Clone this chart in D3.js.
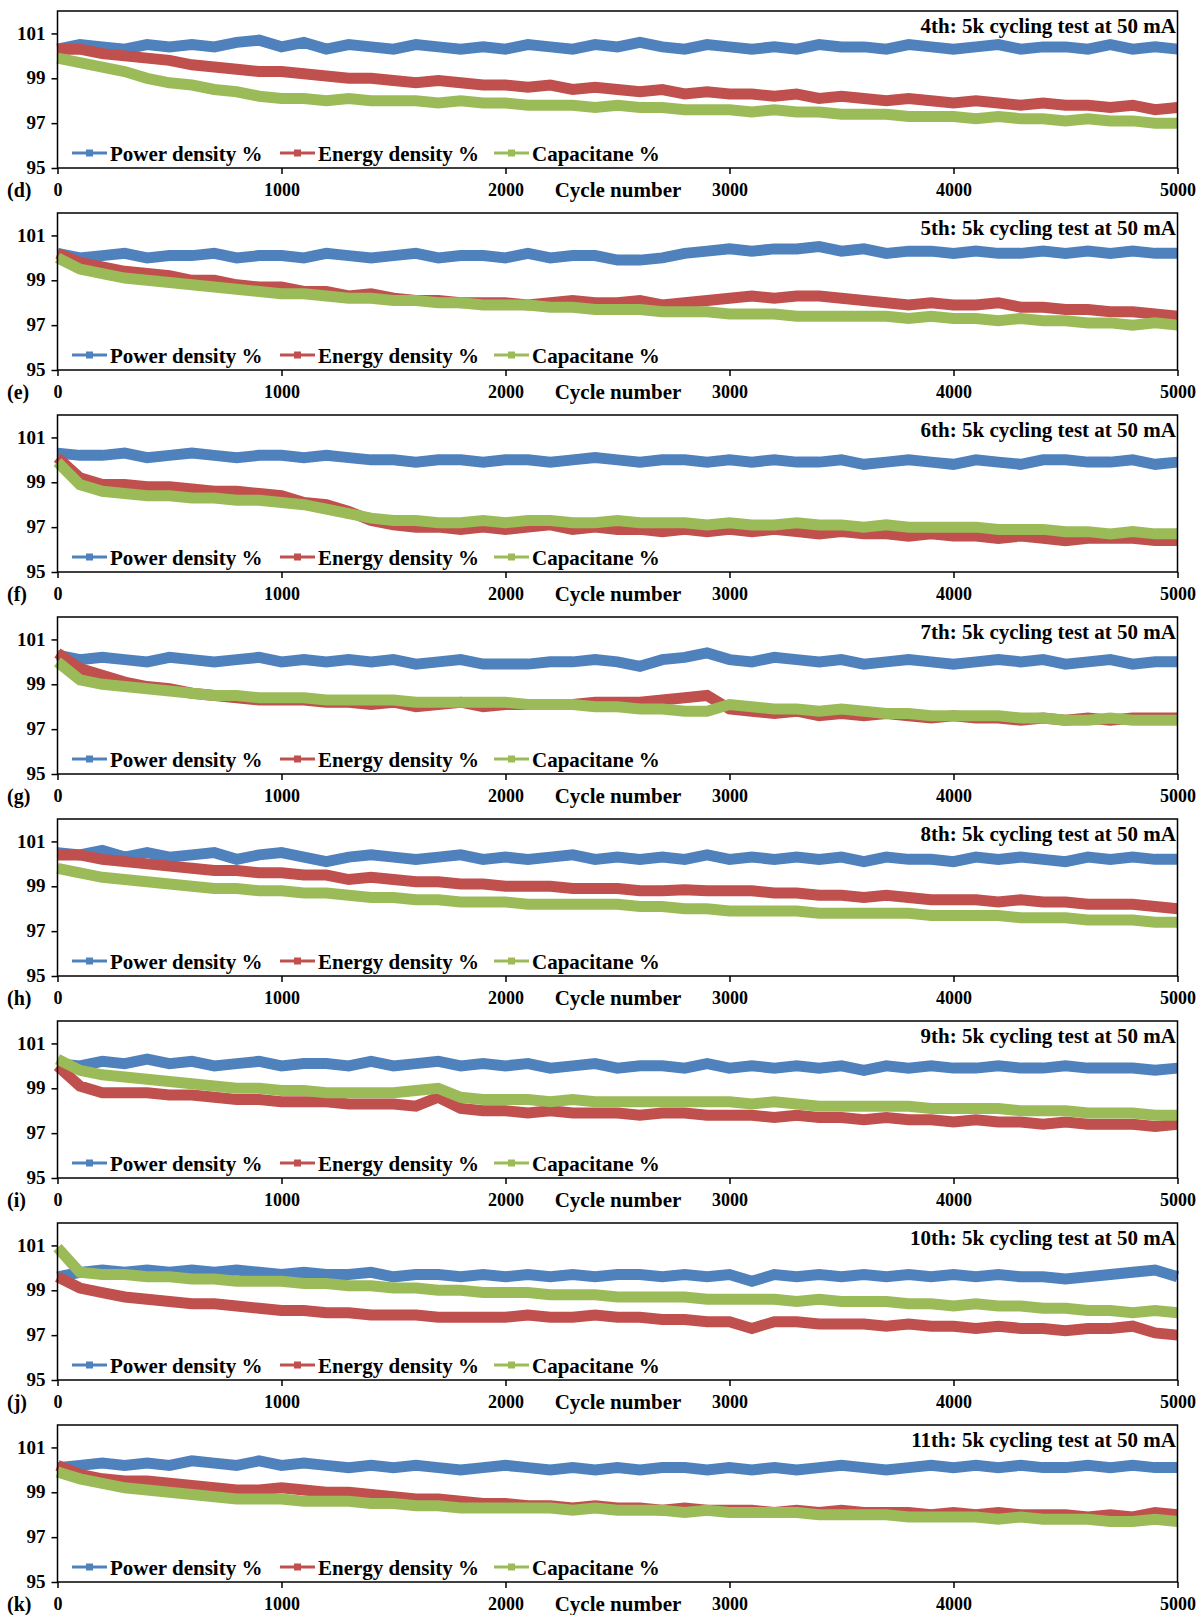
<!DOCTYPE html>
<html lang="en">
<head>
  <meta charset="UTF-8">
  <title>5k cycling tests</title>
  <script src="https://cdn.jsdelivr.net/npm/d3@7"></script>
  <style>
    html, body {
      margin: 0;
      padding: 0;
      background: #fff;
    }
    text {
      font-family: "Liberation Serif", "Times New Roman", serif;
      font-weight: bold;
      fill: #000;
    }
  </style>
</head>
<body>
  <svg id="chart" width="1200" height="1615"></svg>
  <script>
    // cycle numbers the values were read at
    const cycles = [0, 100, 200, 300, 400, 500, 600, 700, 800, 900,
      1000, 1100, 1200, 1300, 1400, 1500, 1600, 1700, 1800, 1900,
      2000, 2100, 2200, 2300, 2400, 2500, 2600, 2700, 2800, 2900,
      3000, 3100, 3200, 3300, 3400, 3500, 3600, 3700, 3800, 3900,
      4000, 4100, 4200, 4300, 4400, 4500, 4600, 4700, 4800, 4900, 5000];

    const xTicks = [0, 1000, 2000, 3000, 4000, 5000];
    const yTicks = [95, 97, 99, 101];
    const seriesNames = ['Power density %', 'Energy density %', 'Capacitane %'];
    const panelLetters = ['(d)', '(e)', '(f)', '(g)', '(h)', '(i)', '(j)', '(k)'];
    const panelTitles = ['4th', '5th', '6th', '7th', '8th', '9th', '10th', '11th']
      .map(t => t + ': 5k cycling test at 50 mA');

    // 4th test
    const power4 = [100.3,100.5,100.4,100.3,100.5,100.4,100.5,100.4,100.6,100.7,100.4,100.6,100.3,100.5,100.4,100.3,100.5,100.4,100.3,100.4,100.3,100.5,100.4,100.3,100.5,100.4,100.6,100.4,100.3,100.5,100.4,100.3,100.4,100.3,100.5,100.4,100.4,100.3,100.5,100.4,100.3,100.4,100.5,100.3,100.4,100.4,100.3,100.5,100.3,100.4,100.3];
    const energy4 = [100.3,100.3,100.1,100.0,99.9,99.8,99.6,99.5,99.4,99.3,99.3,99.2,99.1,99.0,99.0,98.9,98.8,98.9,98.8,98.7,98.7,98.6,98.7,98.5,98.6,98.5,98.4,98.5,98.3,98.4,98.3,98.3,98.2,98.3,98.1,98.2,98.1,98.0,98.1,98.0,97.9,98.0,97.9,97.8,97.9,97.8,97.8,97.7,97.8,97.6,97.7];
    const cap4 = [99.9,99.7,99.5,99.3,99.0,98.8,98.7,98.5,98.4,98.2,98.1,98.1,98.0,98.1,98.0,98.0,98.0,97.9,98.0,97.9,97.9,97.8,97.8,97.8,97.7,97.8,97.7,97.7,97.6,97.6,97.6,97.5,97.6,97.5,97.5,97.4,97.4,97.4,97.3,97.3,97.3,97.2,97.3,97.2,97.2,97.1,97.2,97.1,97.1,97.0,97.0];

    // 5th test
    const power5 = [100.2,100.0,100.1,100.2,100.0,100.1,100.1,100.2,100.0,100.1,100.1,100.0,100.2,100.1,100.0,100.1,100.2,100.0,100.1,100.1,100.0,100.2,100.0,100.1,100.1,99.9,99.9,100.0,100.2,100.3,100.4,100.3,100.4,100.4,100.5,100.3,100.4,100.2,100.3,100.3,100.2,100.3,100.2,100.2,100.3,100.2,100.3,100.2,100.3,100.2,100.2];
    const energy5 = [100.2,99.8,99.6,99.4,99.3,99.2,99.0,99.0,98.8,98.7,98.7,98.5,98.5,98.3,98.4,98.2,98.1,98.1,98.0,98.0,98.0,97.9,98.0,98.1,98.0,98.0,98.1,97.9,98.0,98.1,98.2,98.3,98.2,98.3,98.3,98.2,98.1,98.0,97.9,98.0,97.9,97.9,98.0,97.8,97.8,97.7,97.7,97.6,97.6,97.5,97.4];
    const cap5 = [100.0,99.5,99.3,99.1,99.0,98.9,98.8,98.7,98.6,98.5,98.4,98.4,98.3,98.2,98.2,98.1,98.1,98.0,98.0,97.9,97.9,97.9,97.8,97.8,97.7,97.7,97.7,97.6,97.6,97.6,97.5,97.5,97.5,97.4,97.4,97.4,97.4,97.4,97.3,97.4,97.3,97.3,97.2,97.3,97.2,97.2,97.1,97.1,97.0,97.1,97.0];

    // 6th test
    const power6 = [100.3,100.2,100.2,100.3,100.1,100.2,100.3,100.2,100.1,100.2,100.2,100.1,100.2,100.1,100.0,100.0,99.9,100.0,100.0,99.9,100.0,100.0,99.9,100.0,100.1,100.0,99.9,100.0,100.0,99.9,100.0,99.9,100.0,99.9,99.9,100.0,99.8,99.9,100.0,99.9,99.8,100.0,99.9,99.8,100.0,100.0,99.9,99.9,100.0,99.8,99.9];
    const energy6 = [100.1,99.2,98.9,98.9,98.8,98.8,98.7,98.6,98.6,98.5,98.4,98.1,98.0,97.7,97.3,97.1,97.0,97.0,96.9,97.0,96.9,97.0,97.1,96.9,97.0,96.9,96.9,96.8,96.9,96.8,96.9,96.8,96.9,96.8,96.7,96.8,96.7,96.7,96.6,96.7,96.6,96.6,96.5,96.6,96.5,96.4,96.5,96.5,96.5,96.4,96.4];
    const cap6 = [99.9,98.9,98.6,98.5,98.4,98.4,98.3,98.3,98.2,98.2,98.1,98.0,97.8,97.6,97.4,97.3,97.3,97.2,97.2,97.3,97.2,97.3,97.3,97.2,97.2,97.3,97.2,97.2,97.2,97.1,97.2,97.1,97.1,97.2,97.1,97.1,97.0,97.1,97.0,97.0,97.0,97.0,96.9,96.9,96.9,96.8,96.8,96.7,96.8,96.7,96.7];

    // 7th test
    const power7 = [100.3,100.1,100.2,100.1,100.0,100.2,100.1,100.0,100.1,100.2,100.0,100.1,100.0,100.1,100.0,100.1,99.9,100.0,100.1,99.9,99.9,99.9,100.0,100.0,100.1,100.0,99.8,100.1,100.2,100.4,100.1,100.0,100.2,100.1,100.0,100.1,99.9,100.0,100.1,100.0,99.9,100.0,100.1,100.0,100.1,99.9,100.0,100.1,99.9,100.0,100.0];
    const energy7 = [100.4,99.7,99.4,99.1,98.9,98.8,98.6,98.5,98.4,98.3,98.3,98.3,98.2,98.2,98.1,98.2,98.0,98.1,98.2,98.0,98.1,98.1,98.1,98.1,98.2,98.2,98.2,98.3,98.4,98.5,97.9,97.8,97.7,97.8,97.6,97.7,97.6,97.7,97.6,97.5,97.6,97.5,97.5,97.4,97.5,97.4,97.5,97.4,97.5,97.5,97.5];
    const cap7 = [100.0,99.2,99.0,98.9,98.8,98.7,98.6,98.5,98.5,98.4,98.4,98.4,98.3,98.3,98.3,98.3,98.2,98.2,98.2,98.2,98.2,98.1,98.1,98.1,98.0,98.0,97.9,97.9,97.8,97.8,98.1,98.0,97.9,97.9,97.8,97.9,97.8,97.7,97.7,97.6,97.6,97.6,97.6,97.5,97.5,97.4,97.4,97.5,97.4,97.4,97.4];

    // 8th test
    const power8 = [100.5,100.4,100.6,100.3,100.5,100.3,100.4,100.5,100.2,100.4,100.5,100.3,100.1,100.3,100.4,100.3,100.2,100.3,100.4,100.2,100.3,100.2,100.3,100.4,100.2,100.3,100.2,100.3,100.2,100.4,100.2,100.3,100.2,100.3,100.2,100.3,100.1,100.3,100.2,100.2,100.1,100.3,100.2,100.3,100.2,100.1,100.3,100.2,100.3,100.2,100.2];
    const energy8 = [100.4,100.4,100.2,100.1,100.0,99.9,99.8,99.7,99.7,99.6,99.6,99.5,99.5,99.3,99.4,99.3,99.2,99.2,99.1,99.1,99.0,99.0,99.0,98.9,98.9,98.9,98.8,98.8,98.85,98.8,98.8,98.8,98.7,98.7,98.6,98.6,98.5,98.6,98.5,98.4,98.4,98.4,98.3,98.4,98.3,98.3,98.2,98.2,98.2,98.1,98.0];
    const cap8 = [99.8,99.6,99.4,99.3,99.2,99.1,99.0,98.9,98.9,98.8,98.8,98.7,98.7,98.6,98.5,98.5,98.4,98.4,98.3,98.3,98.3,98.2,98.2,98.2,98.2,98.2,98.1,98.1,98.0,98.0,97.9,97.9,97.9,97.9,97.8,97.8,97.8,97.8,97.8,97.7,97.7,97.7,97.7,97.6,97.6,97.6,97.5,97.5,97.5,97.4,97.4];

    // 9th test
    const power9 = [100.1,100.0,100.2,100.1,100.3,100.1,100.2,100.0,100.1,100.2,100.0,100.1,100.1,100.0,100.2,100.0,100.1,100.2,100.0,100.1,100.0,100.1,99.9,100.0,100.1,99.9,100.0,100.0,99.9,100.1,99.9,100.0,99.9,100.0,99.9,100.0,99.8,100.0,99.9,100.0,99.9,99.9,100.0,99.9,99.9,100.0,99.9,99.9,99.9,99.8,99.9];
    const energy9 = [100.0,99.1,98.8,98.8,98.8,98.7,98.7,98.6,98.5,98.5,98.4,98.4,98.4,98.3,98.3,98.3,98.2,98.6,98.1,98.0,98.0,97.9,98.0,97.9,97.9,97.9,97.8,97.9,97.9,97.8,97.8,97.8,97.7,97.8,97.7,97.7,97.6,97.7,97.6,97.6,97.5,97.6,97.5,97.5,97.4,97.5,97.4,97.4,97.4,97.3,97.4];
    const cap9 = [100.3,99.8,99.6,99.5,99.4,99.3,99.2,99.1,99.0,99.0,98.9,98.9,98.8,98.8,98.8,98.8,98.9,99.0,98.6,98.5,98.5,98.5,98.4,98.5,98.4,98.4,98.4,98.4,98.4,98.4,98.4,98.3,98.4,98.3,98.2,98.2,98.2,98.2,98.2,98.1,98.1,98.1,98.1,98.0,98.0,98.0,97.9,97.9,97.9,97.8,97.8];

    // 10th test
    const power10 = [99.6,99.8,99.9,99.8,99.9,99.8,99.9,99.8,99.9,99.8,99.7,99.8,99.7,99.7,99.8,99.6,99.7,99.7,99.6,99.7,99.6,99.7,99.6,99.7,99.6,99.7,99.7,99.6,99.7,99.6,99.7,99.4,99.7,99.6,99.7,99.6,99.7,99.6,99.7,99.6,99.7,99.6,99.7,99.6,99.6,99.5,99.6,99.7,99.8,99.9,99.6];
    const energy10 = [99.6,99.1,98.9,98.7,98.6,98.5,98.4,98.4,98.3,98.2,98.1,98.1,98.0,98.0,97.9,97.9,97.9,97.8,97.8,97.8,97.8,97.9,97.8,97.8,97.9,97.8,97.8,97.7,97.7,97.6,97.6,97.3,97.6,97.6,97.5,97.5,97.5,97.4,97.5,97.4,97.4,97.3,97.4,97.3,97.3,97.2,97.3,97.3,97.4,97.1,97.0];
    const cap10 = [100.9,99.8,99.7,99.7,99.6,99.6,99.5,99.5,99.4,99.4,99.4,99.3,99.3,99.2,99.2,99.1,99.1,99.0,99.0,98.9,98.9,98.9,98.8,98.8,98.8,98.7,98.7,98.7,98.7,98.6,98.6,98.6,98.6,98.5,98.6,98.5,98.5,98.5,98.4,98.4,98.3,98.4,98.3,98.3,98.2,98.2,98.1,98.1,98.0,98.1,98.0];

    // 11th test
    const power11 = [100.1,100.2,100.3,100.2,100.3,100.2,100.4,100.3,100.2,100.4,100.2,100.3,100.2,100.1,100.2,100.1,100.2,100.1,100.0,100.1,100.2,100.1,100.0,100.1,100.0,100.1,100.0,100.1,100.1,100.0,100.1,100.0,100.1,100.0,100.1,100.2,100.1,100.0,100.1,100.2,100.1,100.2,100.1,100.2,100.1,100.1,100.2,100.1,100.2,100.1,100.1];
    const energy11 = [100.2,99.8,99.6,99.5,99.5,99.4,99.3,99.2,99.1,99.1,99.2,99.1,99.0,99.0,98.9,98.8,98.7,98.7,98.6,98.5,98.5,98.4,98.4,98.3,98.4,98.3,98.3,98.2,98.3,98.2,98.2,98.2,98.1,98.2,98.1,98.2,98.1,98.1,98.1,98.0,98.1,98.0,98.1,98.0,98.0,98.0,97.9,98.0,97.9,98.1,98.0];
    const cap11 = [99.9,99.6,99.4,99.2,99.1,99.0,98.9,98.8,98.7,98.7,98.7,98.6,98.6,98.6,98.5,98.5,98.4,98.4,98.3,98.3,98.3,98.3,98.3,98.2,98.3,98.2,98.2,98.2,98.1,98.2,98.1,98.1,98.1,98.1,98.0,98.0,98.0,98.0,97.9,97.9,97.9,97.9,97.8,97.9,97.8,97.8,97.8,97.7,97.7,97.8,97.7];

    const panels = [
      [power4, energy4, cap4], [power5, energy5, cap5],
      [power6, energy6, cap6], [power7, energy7, cap7],
      [power8, energy8, cap8], [power9, energy9, cap9],
      [power10, energy10, cap10], [power11, energy11, cap11]
    ];

    const colors = ['#4f81bd', '#c0504d', '#9bbb59'];

    const svg = d3.select('#chart');
    const pitch = 202;
    const x = d3.scaleLinear().domain([0, 5000]).range([57.5, 1177.5]);

    panels.forEach((series, i) => {
      const g = svg.append('g').attr('transform', `translate(0,${i * pitch})`);
      const y = d3.scaleLinear().domain([95, 102]).range([168, 11]);

      // data
      const line = d3.line()
        .x((d, j) => x(cycles[j]))
        .y(d => y(d));

      g.selectAll('path.series')
        .data(series)
        .enter()
        .append('path')
        .attr('class', 'series')
        .attr('d', line)
        .attr('fill', 'none')
        .attr('stroke', (d, k) => colors[k])
        .attr('stroke-width', 11)
        .attr('stroke-linejoin', 'miter')
        .attr('stroke-miterlimit', 3);

      // frame
      g.append('rect')
        .attr('x', x(0))
        .attr('y', y(102))
        .attr('width', x(5000) - x(0))
        .attr('height', y(95) - y(102))
        .attr('fill', 'none')
        .attr('stroke', '#000')
        .attr('stroke-width', 1.5);

      // axes
      const yAxis = g.append('g')
        .attr('transform', `translate(${x(0)},0)`)
        .call(d3.axisLeft(y).tickValues(yTicks).tickSize(6).tickPadding(6).tickFormat(d3.format('d')));
      yAxis.select('.domain').remove();
      yAxis.selectAll('line').attr('stroke', '#000').attr('stroke-width', 1.5);
      yAxis.selectAll('text')
        .attr('font-size', 19)
        .attr('dy', '0.3em')
        .attr('font-family', '"Liberation Serif", serif')
        .attr('font-weight', 'bold');

      const xAxis = g.append('g')
        .attr('transform', `translate(0,${y(95)})`)
        .call(d3.axisBottom(x).tickValues(xTicks).tickSize(6).tickPadding(9).tickFormat(d3.format('d')));
      xAxis.select('.domain').remove();
      xAxis.selectAll('line').attr('stroke', '#000').attr('stroke-width', 1.5);
      xAxis.selectAll('text')
        .attr('font-size', 18)
        .attr('font-family', '"Liberation Serif", serif')
        .attr('font-weight', 'bold');

      g.append('text')
        .attr('x', 618)
        .attr('y', 196.5)
        .attr('text-anchor', 'middle')
        .attr('font-size', 21)
        .text('Cycle number');

      g.append('text')
        .attr('x', 7)
        .attr('y', 196.5)
        .attr('font-size', 20)
        .text(panelLetters[i]);

      g.append('text')
        .attr('x', 1176)
        .attr('y', 33)
        .attr('text-anchor', 'end')
        .attr('font-size', 21)
        .text(panelTitles[i]);

      // legend
      const legendX = [72, 280, 494];
      const leg = g.selectAll('g.legend')
        .data(seriesNames)
        .enter()
        .append('g')
        .attr('class', 'legend')
        .attr('transform', (d, k) => `translate(${legendX[k]},153)`);
      leg.append('line')
        .attr('x1', 0).attr('x2', 35)
        .attr('stroke', (d, k) => colors[k])
        .attr('stroke-width', 3);
      leg.append('rect')
        .attr('x', 14).attr('y', -3.5)
        .attr('width', 7).attr('height', 7)
        .attr('fill', (d, k) => colors[k]);
      leg.append('text')
        .attr('x', 38)
        .attr('y', 8)
        .attr('font-size', 21)
        .text(d => d);
    });
  </script>
</body>
</html>
